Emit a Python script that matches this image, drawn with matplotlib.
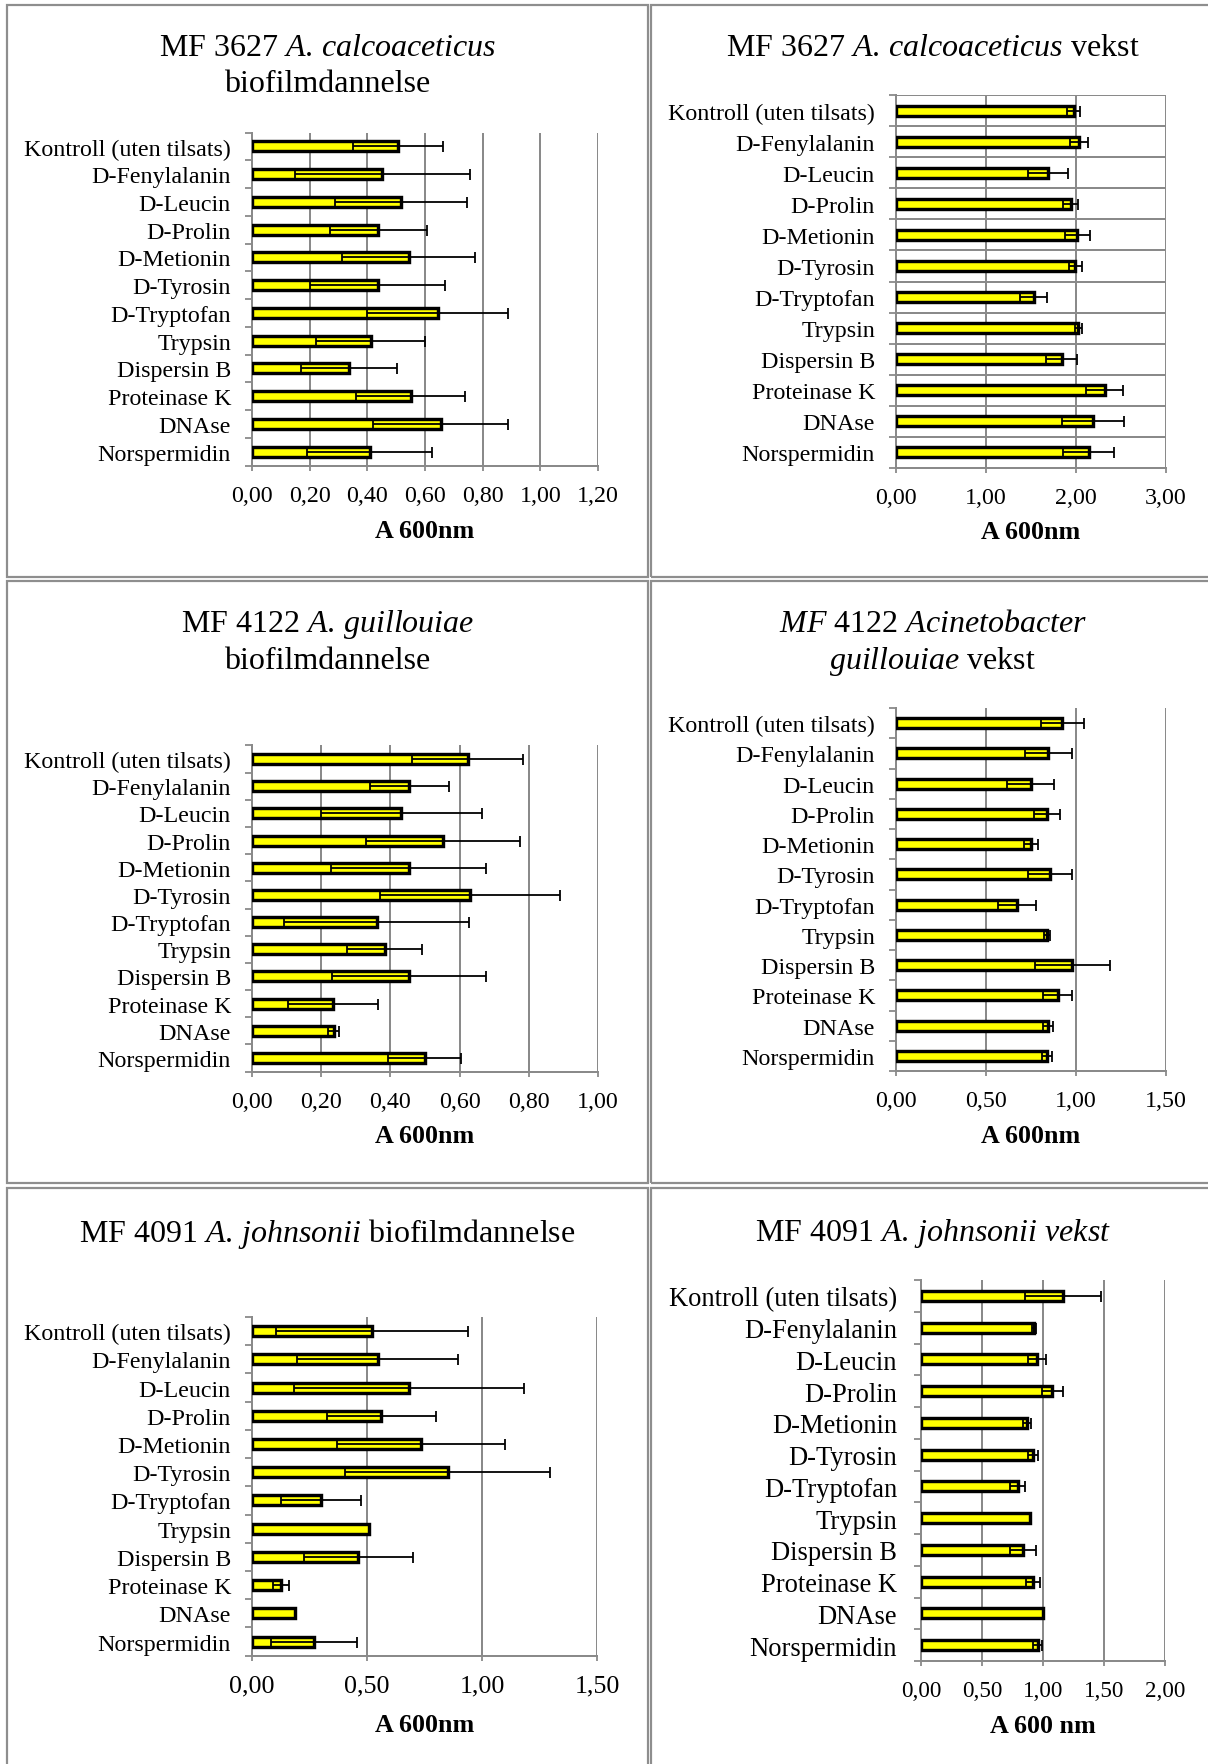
import matplotlib
matplotlib.use("Agg")
import matplotlib.pyplot as plt
from matplotlib.patches import Rectangle
import numpy as np

plt.rcParams['font.family'] = ['Liberation Serif', 'DejaVu Serif']
plt.rcParams['mathtext.fontset'] = 'custom'
plt.rcParams['mathtext.rm'] = 'Liberation Serif'
plt.rcParams['mathtext.it'] = 'Liberation Serif:italic'
plt.rcParams['mathtext.bf'] = 'Liberation Serif:bold'

# ---- data -------------------------------------------------------------
categories = ["Kontroll (uten tilsats)", "D-Fenylalanin", "D-Leucin", "D-Prolin",
              "D-Metionin", "D-Tyrosin", "D-Tryptofan", "Trypsin", "Dispersin B",
              "Proteinase K", "DNAse", "Norspermidin"]

calco_biofilm = [0.507, 0.452, 0.516, 0.438, 0.543, 0.436, 0.644, 0.412, 0.337, 0.550, 0.655, 0.408]
calco_biofilm_sd = [0.157, 0.303, 0.229, 0.168, 0.231, 0.235, 0.245, 0.189, 0.167, 0.188, 0.234, 0.217]

calco_growth = [1.973, 2.034, 1.690, 1.941, 2.014, 1.993, 1.528, 2.026, 1.840, 2.317, 2.188, 2.139]
calco_growth_sd = [0.07, 0.10, 0.22, 0.08, 0.14, 0.07, 0.146, 0.04, 0.17, 0.21, 0.34, 0.28]

guill_biofilm = [0.623, 0.455, 0.432, 0.552, 0.453, 0.630, 0.360, 0.384, 0.453, 0.235, 0.236, 0.499]
guill_biofilm_sd = [0.160, 0.113, 0.233, 0.222, 0.224, 0.261, 0.267, 0.108, 0.222, 0.130, 0.015, 0.105]

guill_growth = [0.924, 0.847, 0.748, 0.839, 0.750, 0.855, 0.673, 0.839, 0.980, 0.898, 0.843, 0.841]
guill_growth_sd = [0.12, 0.13, 0.13, 0.07, 0.04, 0.12, 0.107, 0.016, 0.21, 0.082, 0.028, 0.028]

johns_biofilm = [0.523, 0.546, 0.684, 0.563, 0.736, 0.850, 0.300, 0.510, 0.463, 0.127, 0.185, 0.270]
johns_biofilm_sd = [0.418, 0.35, 0.50, 0.237, 0.366, 0.445, 0.174, 0.0, 0.237, 0.036, 0.0, 0.186]

johns_growth = [1.165, 0.927, 0.951, 1.076, 0.868, 0.918, 0.793, 0.892, 0.838, 0.918, 1.001, 0.957]
johns_growth_sd = [0.31, 0.015, 0.077, 0.086, 0.03, 0.042, 0.06, 0.0, 0.107, 0.06, 0.0, 0.036]

# ---- figure -----------------------------------------------------------
W, H, DPI = 1208, 1765, 100
fig = plt.figure(figsize=(W / DPI, H / DPI), dpi=DPI)
PT = 72.0 / DPI  # points per pixel

GRID = '#8a8a8a'
YELLOW = '#FFFF00'


def fx(x):
    return x / W


def fy(y):
    return 1 - y / H


# panel frames
frames = [(7, 6, 648, 578), (651, 6, 1220, 578),
          (7, 582, 648, 1184), (651, 582, 1220, 1184),
          (7, 1189, 648, 1775), (651, 1189, 1220, 1775)]
for l, t, r, b in frames:
    fig.patches.append(Rectangle((fx(l), fy(b)), fx(r - l), (b - t) / H,
                                 transform=fig.transFigure, fill=False,
                                 edgecolor='#8e8e8e', linewidth=2.2 * PT))

panels = [
    dict(vals=calco_biofilm, sd=calco_biofilm_sd, xmax=1.2, step=0.2,
         box=(252, 133.6, 598, 466.5), cx=327.5,
         titles=[("MF 3627 $\\mathit{A.\\,calcoaceticus}$", 48), ("biofilmdannelse", 84)],
         xlabel="A 600nm", xlabel_y=531, lab=24, tick=24, hgrid=False, lab_gap=21),
    dict(vals=calco_growth, sd=calco_growth_sd, xmax=3.0, step=1.0,
         box=(896, 96, 1166, 469), cx=933,
         titles=[("MF 3627 $\\mathit{A.\\,calcoaceticus}$ vekst", 48)],
         xlabel="A 600nm", xlabel_y=532.5, lab=24, tick=24, hgrid=True, lab_gap=21),
    dict(vals=guill_biofilm, sd=guill_biofilm_sd, xmax=1.0, step=0.2,
         box=(252, 746.4, 598, 1072.6), cx=327.5,
         titles=[("MF 4122 $\\mathit{A.\\,guillouiae}$", 624.6), ("biofilmdannelse", 662)],
         xlabel="A 600nm", xlabel_y=1137, lab=24, tick=24, hgrid=False, lab_gap=21),
    dict(vals=guill_growth, sd=guill_growth_sd, xmax=1.5, step=0.5,
         box=(896, 709, 1166, 1072), cx=933,
         titles=[("$\\mathit{MF}$ $\\mathit{4122}$ $\\mathit{Acinetobacter}$", 624.6),
                 ("$\\mathit{guillouiae}$ vekst", 662)],
         xlabel="A 600nm", xlabel_y=1137, lab=24, tick=24, hgrid=False, lab_gap=21),
    dict(vals=johns_biofilm, sd=johns_biofilm_sd, xmax=1.5, step=0.5,
         box=(252, 1318, 597, 1656.7), cx=327.5,
         titles=[("MF 4091 $\\mathit{A.\\,johnsonii}$ biofilmdannelse", 1233.6)],
         xlabel="A 600nm", xlabel_y=1726, lab=24, tick=26, hgrid=False, lab_gap=21),
    dict(vals=johns_growth, sd=johns_growth_sd, xmax=2.0, step=0.5,
         box=(921, 1281, 1165, 1662), cx=933,
         titles=[("MF 4091 $\\mathit{A.\\,johnsonii}$ $\\mathit{vekst}$", 1233.6)],
         xlabel="A 600 nm", xlabel_y=1727, lab=26.5, tick=23, hgrid=False, lab_gap=24),
]

n = len(categories)
ypos = np.arange(n)

for p in panels:
    l, t, r, b = p['box']
    ax = fig.add_axes([fx(l), fy(b), fx(r - l), (b - t) / H])
    spacing = (b - t) / n
    bar_h = 10.0 / spacing

    ax.barh(ypos, p['vals'], height=bar_h, color=YELLOW, edgecolor='black',
            linewidth=3.4 * PT, zorder=3)

    vals = np.asarray(p['vals'])
    sd = np.asarray(p['sd'])
    m = sd > 0
    ax.errorbar(vals[m], ypos[m], xerr=sd[m], fmt='none', ecolor='black',
                elinewidth=1.8 * PT, capsize=5.5 * PT, capthick=1.8 * PT, zorder=4)

    ax.set_xlim(0, p['xmax'])
    ax.set_ylim(n - 0.5, -0.5)
    xt = np.round(np.arange(0, p['xmax'] + 1e-9, p['step']), 2)
    ax.set_xticks(xt)
    ax.set_xticklabels([f"{v:.2f}".replace('.', ',') for v in xt],
                       fontsize=p['tick'] * PT)
    ax.set_yticks(ypos)
    ax.set_yticklabels(categories, fontsize=p['lab'] * PT)
    ax.set_yticks(np.arange(-0.5, n, 1.0), minor=True)

    ax.tick_params(axis='y', which='major', length=0, pad=p['lab_gap'] * PT)
    ax.tick_params(axis='y', which='minor', length=7 * PT, width=1.8 * PT,
                   color=GRID, direction='out')
    ax.tick_params(axis='x', which='major', length=5 * PT, width=1.8 * PT,
                   color=GRID, direction='out', pad=14 * PT)

    ax.grid(axis='x', which='major', color=GRID, linewidth=2.0 * PT, zorder=0)
    if p['hgrid']:
        ax.grid(axis='y', which='minor', color=GRID, linewidth=2.0 * PT, zorder=0)
    ax.set_axisbelow(True)

    for s in ('top', 'right'):
        ax.spines[s].set_visible(False)
    for s in ('left', 'bottom'):
        ax.spines[s].set_color(GRID)
        ax.spines[s].set_linewidth(2.0 * PT)

    for txt, yy in p['titles']:
        fig.text(fx(p['cx']), fy(yy), txt, ha='center', va='center',
                 fontsize=32 * PT)
    fig.text(fx((l + r) / 2), fy(p['xlabel_y']), p['xlabel'], ha='center',
             va='center', fontsize=26 * PT, fontweight='bold')

fig.savefig('out.png', dpi=DPI, facecolor='white')
